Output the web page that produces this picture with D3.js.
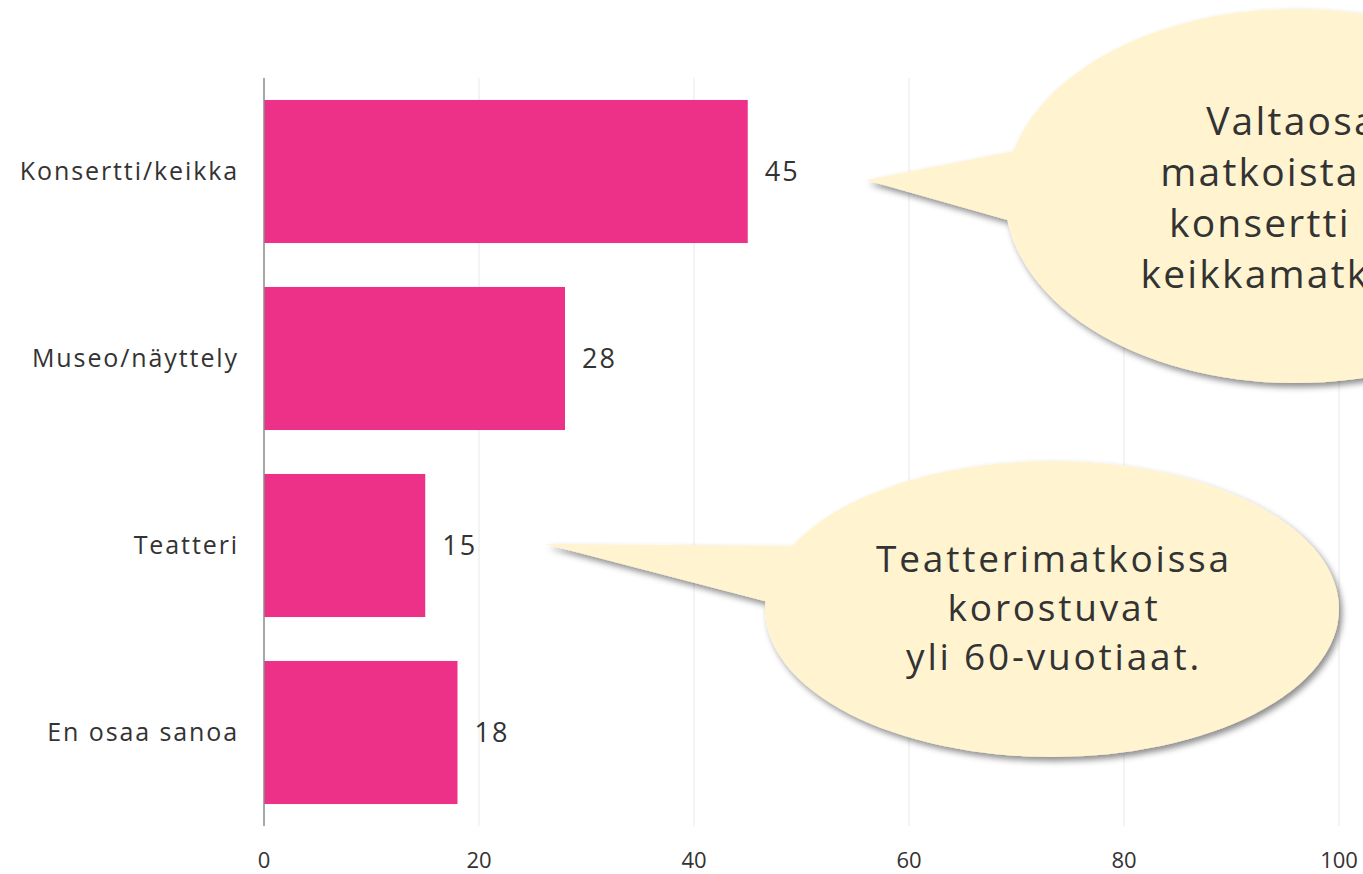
<!DOCTYPE html>
<html><head><meta charset="utf-8">
<script src="https://cdn.jsdelivr.net/npm/d3@7"></script>
<style>body{margin:0;background:#fff;overflow:hidden}svg{display:block}text{font-family:"Open Sans","Noto Sans",sans-serif;fill:#333}</style>
</head><body><svg id="c" width="1363" height="874"></svg>
<script>
const categories = ["Konsertti/keikka","Museo/näyttely","Teatteri","En osaa sanoa"];
const values = [45, 28, 15, 18];
const ticks = [0, 20, 40, 60, 80, 100];
const bubble1Lines = ["Valtaosa","matkoista on","konsertti tai","keikkamatkoja."];
const bubble2Lines = ["Teatterimatkoissa","korostuvat","yli 60-vuotiaat."];

const svg = d3.select("#c");
const x = d3.scaleLinear().domain([0,100]).range([264,1339]);
const y = d3.scaleBand().domain(categories).range([78,826]).paddingInner(0.235).paddingOuter(0.1175);

const defs = svg.append("defs");
const f = defs.append("filter").attr("id","sh").attr("x","-20%").attr("y","-20%").attr("width","140%").attr("height","140%");
f.append("feDropShadow").attr("dx",3).attr("dy",4).attr("stdDeviation",3).attr("flood-color","#000").attr("flood-opacity",0.45);

// grid
svg.append("g").selectAll("line").data(ticks.filter(t=>t>0)).join("line")
  .attr("x1",d=>x(d)).attr("x2",d=>x(d)).attr("y1",78).attr("y2",826)
  .attr("stroke","#e8e8e8").attr("stroke-width",1);

// bars
svg.append("g").selectAll("rect").data(values).join("rect")
  .attr("x",x(0)).attr("y",(d,i)=>y(categories[i]))
  .attr("width",d=>x(d)-x(0)).attr("height",y.bandwidth())
  .attr("fill","#ED3189");

// axis line
svg.append("line").attr("x1",x(0)).attr("x2",x(0)).attr("y1",78).attr("y2",826)
  .attr("stroke","#8a8a8a").attr("stroke-width",1.5);

// y labels
svg.append("g").selectAll("text").data(categories).join("text")
  .attr("x",239).attr("y",d=>y(d)+y.bandwidth()/2).attr("dy","0.35em")
  .attr("text-anchor","end").attr("font-size",25).attr("letter-spacing",1.9).text(d=>d);

// value labels
svg.append("g").selectAll("text").data(values).join("text")
  .attr("x",d=>x(d)+17).attr("y",(d,i)=>y(categories[i])+y.bandwidth()/2).attr("dy","0.35em")
  .attr("font-size",27).attr("letter-spacing",2).text(d=>d);

// x tick labels
svg.append("g").selectAll("text").data(ticks).join("text")
  .attr("x",d=>x(d)).attr("y",860).attr("dy","0.35em").attr("text-anchor","middle")
  .attr("font-size",22).text(d=>d);

function bubble(cx,cy,rx,ry,tail,lines,tx,ty,lh,fs,ls){
  const g = svg.append("g").attr("filter","url(#sh)");
  g.append("ellipse").attr("cx",cx).attr("cy",cy).attr("rx",rx).attr("ry",ry).attr("fill","#FFF3D0");
  g.append("path").attr("d",d3.line()(tail)).attr("fill","#FFF3D0");
  const t = svg.append("g");
  t.selectAll("text").data(lines).join("text")
    .attr("x",tx).attr("y",(d,i)=>ty+i*lh).attr("text-anchor","middle")
    .attr("font-size",fs).attr("letter-spacing",ls).text(d=>d);
}
bubble(1295,196,290,187,[[866,180],[1030,148],[1025,225]],bubble1Lines,1292,135,51,39,2.2);
bubble(1052,609,287,148,[[545,544],[800,546],[780,605]],bubble2Lines,1054,572,49,37,2.8);
</script></body></html>
